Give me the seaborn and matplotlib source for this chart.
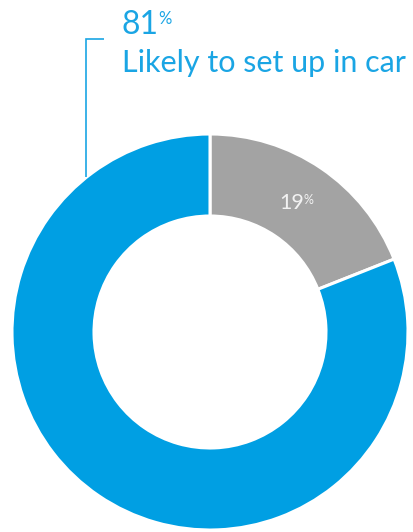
import matplotlib
matplotlib.use("Agg")
import matplotlib.pyplot as plt
import seaborn as sns

# Data
categories = ["Not likely", "Likely to set up in car"]
values = [19, 81]
colors = ["#A3A3A3", "#009FE3"]
label_main = "Likely to set up in car"

sns.set_theme(style="white")
plt.rcParams['font.family'] = ['Lato', 'DejaVu Sans']

W, H = 414, 532
fig = plt.figure(figsize=(W / 100, H / 100), dpi=100)
ax = fig.add_axes([0, 0, 1, 1])

cx, cy = 210, H - 332
R, ring = 198, 82
ax.pie(values, colors=colors, startangle=90, counterclock=False,
       center=(cx, cy), radius=R,
       wedgeprops=dict(width=ring, edgecolor="white", linewidth=2.2))
ax.set_xlim(0, W)
ax.set_ylim(0, H)
ax.set_aspect("equal")
ax.axis("off")

text_blue = "#1AA5E4"
# leader line
ax.plot([104, 86, 86], [H - 39, H - 39, H - 177], color=text_blue, lw=1.2,
        solid_capstyle="butt", solid_joinstyle="miter")

t81 = ax.text(122, H - 34, f"{values[1]}", color=text_blue, fontsize=23,
              ha="left", va="baseline")
ax.annotate("%", xy=(1, 1), xycoords=t81, xytext=(-0.5, -0.5), textcoords="offset points",
            color=text_blue, fontsize=12, ha="left", va="top")
ax.text(122, H - 72, label_main, color=text_blue, fontsize=22,
        ha="left", va="baseline")

t19 = ax.text(279, H - 209, f"{values[0]}", color="#F2F2F2", fontsize=15.5,
              ha="left", va="baseline")
ax.annotate("%", xy=(1, 1), xycoords=t19, xytext=(-0.5, -0.5), textcoords="offset points",
            color="#F2F2F2", fontsize=9, ha="left", va="top")

fig.savefig("out.png", dpi=100, facecolor="white")
